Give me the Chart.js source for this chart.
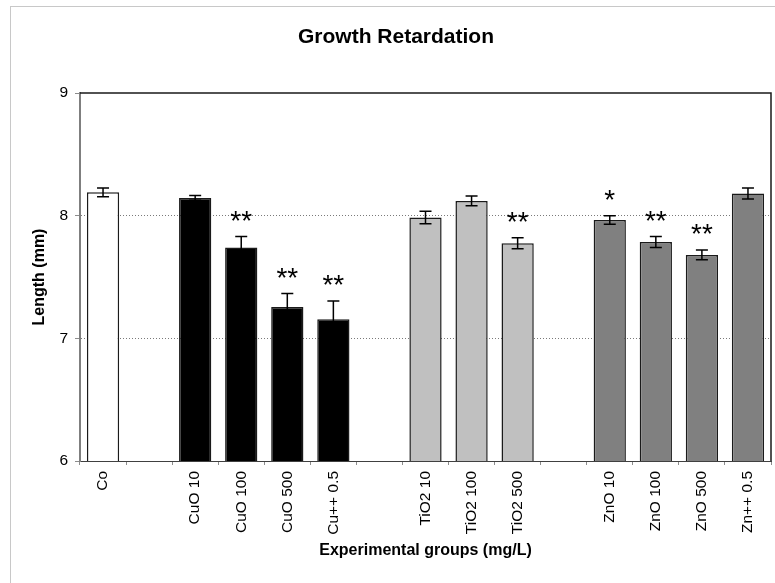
<!DOCTYPE html>
<html>
<head>
<meta charset="utf-8">
<title>Growth Retardation</title>
<script src="https://cdn.jsdelivr.net/npm/chart.js@4/dist/chart.umd.min.js"></script>
<style>
  html, body { margin: 0; padding: 0; background: #fff; }
  #wrap { width: 775px; height: 583px; }
</style>
</head>
<body>
<div id="wrap"><canvas id="chart" width="775" height="583"></canvas></div>
<script>
// Experimental groups; empty strings are spacer slots between the groups
const categories = ['Co', '', 'CuO 10', 'CuO 100', 'CuO 500', 'Cu++ 0.5', '',
  'TiO2 10', 'TiO2 100', 'TiO2 500', '', 'ZnO 10', 'ZnO 100', 'ZnO 500', 'Zn++ 0.5'];

// Mean body length (mm) and its error per group
const lengthMeans = [8.19, null, 8.145, 7.74, 7.255, 7.155, null,
  7.985, 8.12, 7.775, null, 7.965, 7.785, 7.68, 8.18];
const lengthErrors = [0.035, null, 0.02, 0.09, 0.11, 0.15, null,
  0.05, 0.04, 0.045, null, 0.035, 0.045, 0.04, 0.045];

// Significance markers shown above the bars
const significance = ['', '', '', '**', '**', '**', '', '', '', '**', '', '*', '**', '**', ''];

// Value axis
const yTicks = [6, 7, 8, 9];

const FONT = "'Liberation Sans', Arial, Helvetica, sans-serif";

function fillFor(label) {
  if (label.startsWith('Cu')) return '#000000';
  if (label.startsWith('Ti')) return '#c0c0c0';
  if (label.startsWith('Zn')) return '#808080';
  return '#ffffff';
}

// Outer frame and chart heading
const framePlugin = {
  id: 'frame',
  beforeDraw(chart) {
    const ctx = chart.ctx;
    ctx.save();
    ctx.fillStyle = '#ffffff';
    ctx.fillRect(0, 0, chart.width, chart.height);
    ctx.strokeStyle = '#c8c8c8';
    ctx.lineWidth = 1;
    ctx.strokeRect(10.5, 6.5, chart.width + 20, chart.height + 20);
    ctx.fillStyle = '#000000';
    ctx.font = 'bold 21px ' + FONT;
    ctx.textAlign = 'center';
    ctx.textBaseline = 'middle';
    ctx.fillText('Growth Retardation', 396, 37);
    ctx.restore();
  }
};

// Top and right edges of the plot area
const plotBorderPlugin = {
  id: 'plotBorder',
  afterDraw(chart) {
    const { ctx, chartArea: a } = chart;
    ctx.save();
    ctx.strokeStyle = '#1a1a1a';
    ctx.lineWidth = 1.5;
    ctx.beginPath();
    ctx.moveTo(a.left, a.top);
    ctx.lineTo(a.right, a.top);
    ctx.lineTo(a.right, a.bottom);
    ctx.stroke();
    ctx.restore();
  }
};

// Error bars and significance stars
const errorBarPlugin = {
  id: 'errorBars',
  afterDatasetsDraw(chart) {
    const ctx = chart.ctx;
    const y = chart.scales.y;
    const meta = chart.getDatasetMeta(0);
    ctx.save();
    ctx.strokeStyle = '#000000';
    ctx.lineWidth = 1.5;
    lengthMeans.forEach((v, i) => {
      if (v == null) return;
      const e = lengthErrors[i];
      const x = meta.data[i].x;
      const yTop = y.getPixelForValue(v + e);
      const yBot = y.getPixelForValue(v - e);
      ctx.beginPath();
      ctx.moveTo(x, yTop); ctx.lineTo(x, yBot);
      ctx.moveTo(x - 6, yTop); ctx.lineTo(x + 6, yTop);
      ctx.moveTo(x - 6, yBot); ctx.lineTo(x + 6, yBot);
      ctx.stroke();
      const mark = significance[i];
      if (mark) {
        ctx.fillStyle = '#000000';
        ctx.font = '28px ' + FONT;
        ctx.textAlign = 'center';
        ctx.textBaseline = 'alphabetic';
        ctx.fillText(mark, x, yTop - 23 + 16);
      }
    });
    ctx.restore();
  }
};

new Chart(document.getElementById('chart'), {
  type: 'bar',
  data: {
    labels: categories,
    datasets: [{
      data: lengthMeans,
      backgroundColor: ctx => fillFor(categories[ctx.dataIndex] || ''),
      borderColor: '#1a1a1a',
      borderWidth: 1.5,
      barPercentage: 0.7,
      categoryPercentage: 1.0
    }]
  },
  options: {
    responsive: false,
    animation: false,
    events: [],
    layout: { padding: { top: 93, left: 0, right: 4, bottom: 0 } },
    plugins: {
      legend: { display: false },
      tooltip: { enabled: false },
      title: { display: false }
    },
    scales: {
      x: {
        grid: {
          offset: true,
          drawOnChartArea: false,
          drawTicks: true,
          tickLength: 4,
          color: '#8c8c8c'
        },
        border: { color: '#404040', width: 1 },
        ticks: {
          autoSkip: false,
          maxRotation: 90,
          minRotation: 90,
          padding: 6,
          color: '#000000',
          font: { family: FONT, size: 15.5 }
        },
        title: {
          display: true,
          text: 'Experimental groups (mg/L)',
          color: '#000000',
          font: { family: FONT, size: 16, weight: 'bold' },
          padding: { top: 0, bottom: 23 }
        },
        afterFit(scale) { scale.height = 122; }
      },
      y: {
        min: yTicks[0],
        max: yTicks[yTicks.length - 1],
        afterBuildTicks(scale) { scale.ticks = yTicks.map(v => ({ value: v })); },
        grid: {
          drawTicks: true,
          tickLength: 5,
          color: c => (c.tick && (c.tick.value === 7 || c.tick.value === 8)) ? '#7a7a7a' : 'rgba(0,0,0,0)',
          tickColor: '#8c8c8c',
          tickBorderDash: []
        },
        border: { color: '#7f7f7f', width: 2, dash: [1, 2] },
        ticks: {
          padding: 7,
          color: '#000000',
          font: { family: FONT, size: 15.5 }
        },
        title: {
          display: true,
          text: 'Length (mm)',
          color: '#000000',
          font: { family: FONT, size: 16, weight: 'bold' },
          padding: { top: 30, bottom: 0 }
        },
        afterFit(scale) { scale.width = 80; }
      }
    }
  },
  plugins: [framePlugin, plotBorderPlugin, errorBarPlugin]
});
</script>
</body>
</html>
